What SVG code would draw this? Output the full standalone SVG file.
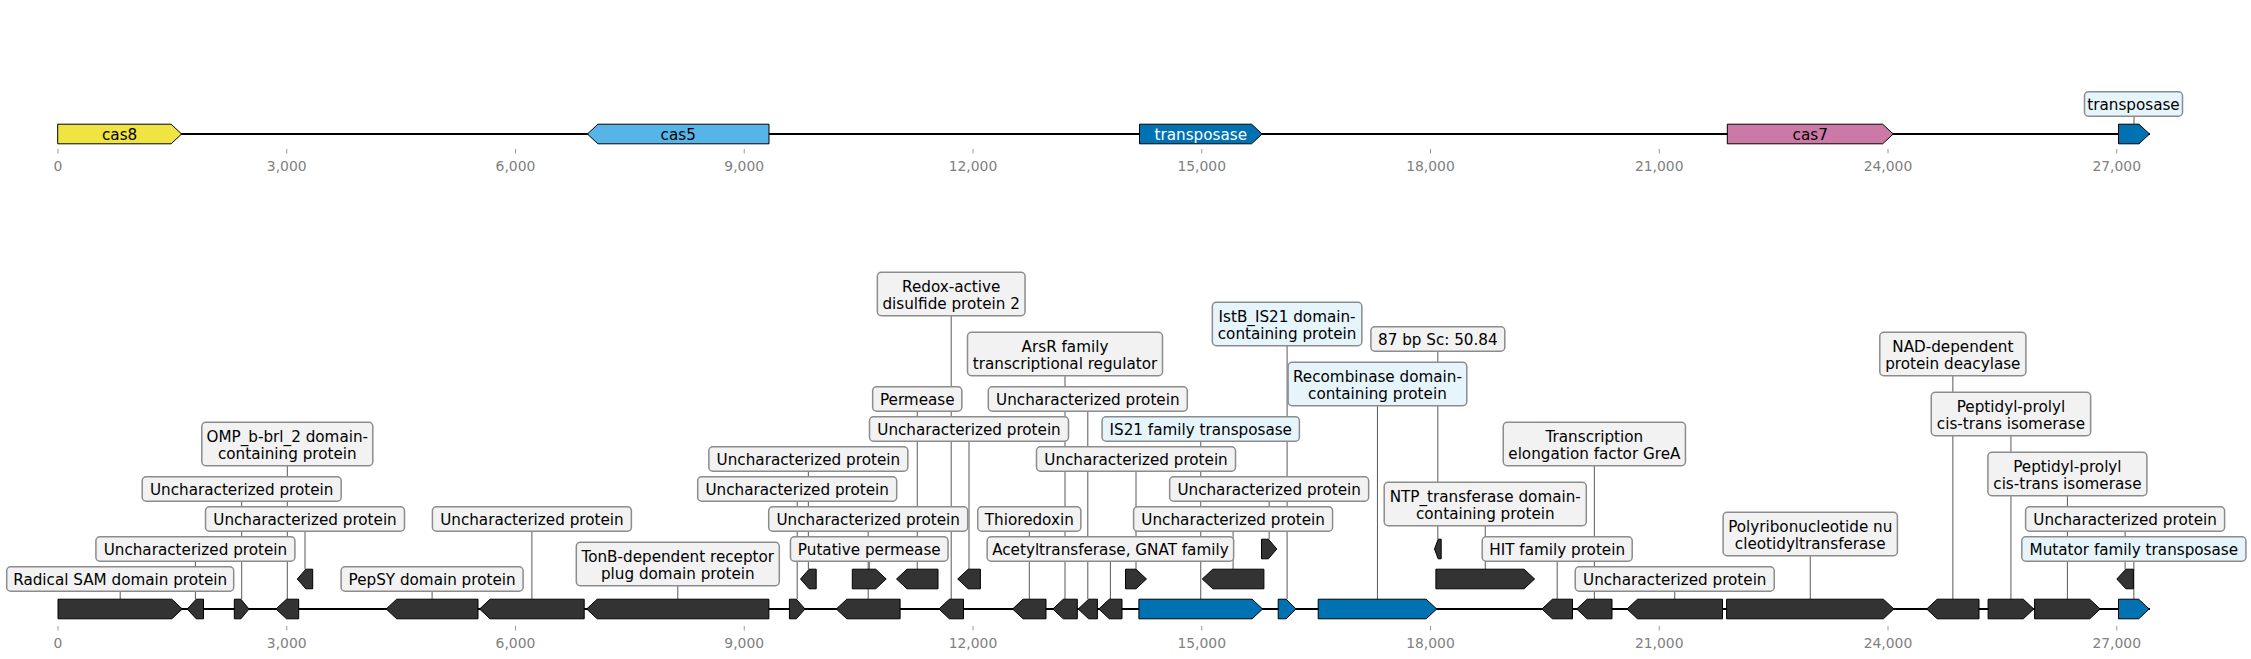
<svg xmlns="http://www.w3.org/2000/svg" width="2251" height="659" viewBox="0 0 2251 659">
<style>
text{font-family:"DejaVu Sans","Liberation Sans",sans-serif;font-size:15.2px;text-anchor:middle;fill:#000}
.tk{font-size:13.9px;fill:#808080}
.g{fill:#333333;stroke:#000;stroke-width:1}
.b{fill:#0072b2;stroke:#000;stroke-width:1}
.lb{fill:#f2f2f2;stroke:#8c8c8c;stroke-width:1.5}
.lbb{fill:#e6f5fc;stroke:#8c8c8c;stroke-width:1.5}
.c{stroke:#595959;stroke-width:1;fill:none}
.ax{stroke:#000;stroke-width:2}
.tick{stroke:#999;stroke-width:1}
</style>
<rect width="2251" height="659" fill="#fff"/>
<g id="axes">
<line class="ax" x1="58" y1="134" x2="2150" y2="134"/>
<line class="ax" x1="58" y1="609" x2="2150" y2="609"/>
<path class="tick" d="M58,149V153.5M286.75,149V153.5M515.5,149V153.5M744.25,149V153.5M973,149V153.5M1201.75,149V153.5M1430.5,149V153.5M1659.25,149V153.5M1888,149V153.5M2116.75,149V153.5M58,626V630.5M286.75,626V630.5M515.5,626V630.5M744.25,626V630.5M973,626V630.5M1201.75,626V630.5M1430.5,626V630.5M1659.25,626V630.5M1888,626V630.5M2116.75,626V630.5"/>
<g class="tk">
<text class="tk" x="58" y="171">0</text><text class="tk" x="286.75" y="171">3,000</text><text class="tk" x="515.5" y="171">6,000</text><text class="tk" x="744.25" y="171">9,000</text><text class="tk" x="973" y="171">12,000</text><text class="tk" x="1201.75" y="171">15,000</text><text class="tk" x="1430.5" y="171">18,000</text><text class="tk" x="1659.25" y="171">21,000</text><text class="tk" x="1888" y="171">24,000</text><text class="tk" x="2116.75" y="171">27,000</text>
<text class="tk" x="58" y="647.5">0</text><text class="tk" x="286.75" y="647.5">3,000</text><text class="tk" x="515.5" y="647.5">6,000</text><text class="tk" x="744.25" y="647.5">9,000</text><text class="tk" x="973" y="647.5">12,000</text><text class="tk" x="1201.75" y="647.5">15,000</text><text class="tk" x="1430.5" y="647.5">18,000</text><text class="tk" x="1659.25" y="647.5">21,000</text><text class="tk" x="1888" y="647.5">24,000</text><text class="tk" x="2116.75" y="647.5">27,000</text>
</g>
</g>
<g id="connectors">
<path class="c" d="M2134,116.15V124.2M120.2,591.15V599.2M195.4,561.15V599.2M241.7,501.15V599.2M305,531.15V569.2M287.3,465.65V599.2M432.1,591.15V599.2M531.9,531.15V599.2M677.8,585.65V599.2M797.2,501.15V599.2M808.35,471.15V569.2M868.2,531.15V599.2M869.25,561.15V569.2M917.25,411.15V569.2M951.2,315.65V599.2M969,441.15V569.2M1029.3,531.15V599.2M1065,375.65V599.2M1087.8,411.15V599.2M1110.4,561.15V599.2M1136,471.15V569.2M1200.75,441.15V599.2M1233.1,531.15V569.2M1269.15,501.15V539.2M1287.1,345.65V599.2M1377.45,405.65V599.2M1437.85,351.15V539.2M1485.25,525.65V569.2M1557.2,561.15V599.2M1594.35,465.65V599.2M1674.75,591.15V599.2M1810.25,555.65V599.2M1952.85,375.65V599.2M2010.95,435.65V599.2M2067.4,495.65V599.2M2125.1,531.15V569.2M2133.85,561.15V599.2"/>
</g>
<g id="top-cas8"><polygon points="57.7,124.2 171.1,124.2 181.6,134 171.1,143.8 57.7,143.8" fill="#f0e442" stroke="#000" stroke-width="1"/><text x="119.6" y="139.5">cas8</text></g>
<g id="top-cas5"><polygon points="587.4,134 597.9,124.2 769,124.2 769,143.8 597.9,143.8" fill="#56b4e9" stroke="#000" stroke-width="1"/><text x="678.2" y="139.5">cas5</text></g>
<g id="top-transposase"><polygon class="b" points="1139.5,124.2 1251.6,124.2 1262.1,134 1251.6,143.8 1139.5,143.8"/><text x="1200.8" y="139.5" style="fill:#fff">transposase</text></g>
<g id="top-cas7"><polygon points="1727.3,124.2 1882.7,124.2 1893.2,134 1882.7,143.8 1727.3,143.8" fill="#cc79a7" stroke="#000" stroke-width="1"/><text x="1810.2" y="139.5">cas7</text></g>
<g id="top-transposase2"><polygon class="b" points="2118.5,124.2 2139,124.2 2149.5,134 2139,143.8 2118.5,143.8"/><rect class="lbb" x="2084.5" y="91.85" width="98" height="24.3" rx="4"/><text x="2133.5" y="109.5">transposase</text></g>
<g id="gA"><polygon class="g" points="58,599.2 171.8,599.2 182.3,609 171.8,618.8 58,618.8"/><rect class="lb" x="6.7" y="566.85" width="227" height="24.3" rx="4"/><text x="120.2" y="584.5">Radical SAM domain protein</text></g>
<g id="gB"><polygon class="g" points="187.3,609 196.2,599.2 203.5,599.2 203.5,618.8 196.2,618.8"/><rect class="lb" x="95.9" y="536.85" width="199" height="24.3" rx="4"/><text x="195.4" y="554.5">Uncharacterized protein</text></g>
<g id="gC"><polygon class="g" points="234.3,599.2 240.9,599.2 249,609 240.9,618.8 234.3,618.8"/><rect class="lb" x="142.2" y="476.85" width="199" height="24.3" rx="4"/><text x="241.7" y="494.5">Uncharacterized protein</text></g>
<g id="gD"><polygon class="g" points="297.3,579 305.8,569.2 312.7,569.2 312.7,588.8 305.8,588.8"/><rect class="lb" x="205.5" y="506.85" width="199" height="24.3" rx="4"/><text x="305" y="524.5">Uncharacterized protein</text></g>
<g id="gE"><polygon class="g" points="276,609 286.5,599.2 298.7,599.2 298.7,618.8 286.5,618.8"/><rect class="lb" x="201.8" y="422.35" width="171" height="43.3" rx="4"/><text x="287.3" y="441.7">OMP_b-brl_2 domain-</text><text x="287.3" y="458.9">containing protein</text></g>
<g id="gF"><polygon class="g" points="386.2,609 396.7,599.2 478,599.2 478,618.8 396.7,618.8"/><rect class="lb" x="341.1" y="566.85" width="182" height="24.3" rx="4"/><text x="432.1" y="584.5">PepSY domain protein</text></g>
<g id="gG"><polygon class="g" points="479.6,609 490.1,599.2 584.2,599.2 584.2,618.8 490.1,618.8"/><rect class="lb" x="432.4" y="506.85" width="199" height="24.3" rx="4"/><text x="531.9" y="524.5">Uncharacterized protein</text></g>
<g id="gH"><polygon class="g" points="586.7,609 597.2,599.2 768.9,599.2 768.9,618.8 597.2,618.8"/><rect class="lb" x="576.3" y="542.35" width="203" height="43.3" rx="4"/><text x="677.8" y="561.7">TonB-dependent receptor</text><text x="677.8" y="578.9">plug domain protein</text></g>
<g id="gI"><polygon class="g" points="789.4,599.2 796.4,599.2 805,609 796.4,618.8 789.4,618.8"/><rect class="lb" x="697.7" y="476.85" width="199" height="24.3" rx="4"/><text x="797.2" y="494.5">Uncharacterized protein</text></g>
<g id="gJ"><polygon class="g" points="800.5,579 809.1,569.2 816.2,569.2 816.2,588.8 809.1,588.8"/><rect class="lb" x="708.85" y="446.85" width="199" height="24.3" rx="4"/><text x="808.35" y="464.5">Uncharacterized protein</text></g>
<g id="gK"><polygon class="g" points="836.3,609 846.8,599.2 900.1,599.2 900.1,618.8 846.8,618.8"/><rect class="lb" x="768.7" y="506.85" width="199" height="24.3" rx="4"/><text x="868.2" y="524.5">Uncharacterized protein</text></g>
<g id="gL"><polygon class="g" points="852.3,569.2 875.7,569.2 886.2,579 875.7,588.8 852.3,588.8"/><rect class="lb" x="790.45" y="536.85" width="157.6" height="24.3" rx="4"/><text x="869.25" y="554.5">Putative permease</text></g>
<g id="gM"><polygon class="g" points="896.5,579 907,569.2 938,569.2 938,588.8 907,588.8"/><rect class="lb" x="872.65" y="386.85" width="89.2" height="24.3" rx="4"/><text x="917.25" y="404.5">Permease</text></g>
<g id="gN"><polygon class="g" points="938.9,609 949.4,599.2 963.5,599.2 963.5,618.8 949.4,618.8"/><rect class="lb" x="877.35" y="272.35" width="147.7" height="43.3" rx="4"/><text x="951.2" y="291.7">Redox-active</text><text x="951.2" y="308.9">disulfide protein 2</text></g>
<g id="gO"><polygon class="g" points="957.7,579 968.2,569.2 980.4,569.2 980.4,588.8 968.2,588.8"/><rect class="lb" x="869.5" y="416.85" width="199" height="24.3" rx="4"/><text x="969" y="434.5">Uncharacterized protein</text></g>
<g id="gP"><polygon class="g" points="1012.6,609 1023.1,599.2 1046,599.2 1046,618.8 1023.1,618.8"/><rect class="lb" x="977.75" y="506.85" width="103.1" height="24.3" rx="4"/><text x="1029.3" y="524.5">Thioredoxin</text></g>
<g id="gQ"><polygon class="g" points="1052.8,609 1063.3,599.2 1077.3,599.2 1077.3,618.8 1063.3,618.8"/><rect class="lb" x="967.5" y="332.35" width="195" height="43.3" rx="4"/><text x="1065" y="351.7">ArsR family</text><text x="1065" y="368.9">transcriptional regulator</text></g>
<g id="gR"><polygon class="g" points="1078.2,609 1088.7,599.2 1097.4,599.2 1097.4,618.8 1088.7,618.8"/><rect class="lb" x="988.3" y="386.85" width="199" height="24.3" rx="4"/><text x="1087.8" y="404.5">Uncharacterized protein</text></g>
<g id="gS"><polygon class="g" points="1098.8,609 1109.3,599.2 1122,599.2 1122,618.8 1109.3,618.8"/><rect class="lb" x="987.15" y="536.85" width="246.5" height="24.3" rx="4"/><text x="1110.4" y="554.5">Acetyltransferase, GNAT family</text></g>
<g id="gT"><polygon class="g" points="1125.5,569.2 1136,569.2 1146.5,579 1136,588.8 1125.5,588.8"/><rect class="lb" x="1036.5" y="446.85" width="199" height="24.3" rx="4"/><text x="1136" y="464.5">Uncharacterized protein</text></g>
<g id="gU"><polygon class="b" points="1138.9,599.2 1252.1,599.2 1262.6,609 1252.1,618.8 1138.9,618.8"/><rect class="lbb" x="1102.1" y="416.85" width="197.3" height="24.3" rx="4"/><text x="1200.75" y="434.5">IS21 family transposase</text></g>
<g id="gV"><polygon class="g" points="1202.3,579 1212.8,569.2 1263.9,569.2 1263.9,588.8 1212.8,588.8"/><rect class="lb" x="1133.6" y="506.85" width="199" height="24.3" rx="4"/><text x="1233.1" y="524.5">Uncharacterized protein</text></g>
<g id="gW"><polygon class="g" points="1261.5,539.2 1268.4,539.2 1276.8,549 1268.4,558.8 1261.5,558.8"/><rect class="lb" x="1169.65" y="476.85" width="199" height="24.3" rx="4"/><text x="1269.15" y="494.5">Uncharacterized protein</text></g>
<g id="gX"><polygon class="b" points="1278.2,599.2 1286.2,599.2 1296,609 1286.2,618.8 1278.2,618.8"/><rect class="lbb" x="1212.35" y="302.35" width="149.5" height="43.3" rx="4"/><text x="1287.1" y="321.7">IstB_IS21 domain-</text><text x="1287.1" y="338.9">containing protein</text></g>
<g id="gY"><polygon class="b" points="1318.2,599.2 1426.2,599.2 1436.7,609 1426.2,618.8 1318.2,618.8"/><rect class="lbb" x="1288.1" y="362.35" width="178.7" height="43.3" rx="4"/><text x="1377.45" y="381.7">Recombinase domain-</text><text x="1377.45" y="398.9">containing protein</text></g>
<g id="gZ"><polygon class="g" points="1434.5,549 1438.2,539.2 1441.2,539.2 1441.2,558.8 1438.2,558.8"/><rect class="lb" x="1370.9" y="326.85" width="133.9" height="24.3" rx="4"/><text x="1437.85" y="344.5">87 bp Sc: 50.84</text></g>
<g id="gAA"><polygon class="g" points="1435.9,569.2 1524.1,569.2 1534.6,579 1524.1,588.8 1435.9,588.8"/><rect class="lb" x="1384.2" y="482.35" width="202.1" height="43.3" rx="4"/><text x="1485.25" y="501.7">NTP_transferase domain-</text><text x="1485.25" y="518.9">containing protein</text></g>
<g id="gAB"><polygon class="g" points="1541.9,609 1552.4,599.2 1572.5,599.2 1572.5,618.8 1552.4,618.8"/><rect class="lb" x="1482.2" y="536.85" width="150" height="24.3" rx="4"/><text x="1557.2" y="554.5">HIT family protein</text></g>
<g id="gAC"><polygon class="g" points="1576.7,609 1587.2,599.2 1612,599.2 1612,618.8 1587.2,618.8"/><rect class="lb" x="1503.25" y="422.35" width="182.2" height="43.3" rx="4"/><text x="1594.35" y="441.7">Transcription</text><text x="1594.35" y="458.9">elongation factor GreA</text></g>
<g id="gAD"><polygon class="g" points="1627,609 1637.5,599.2 1722.5,599.2 1722.5,618.8 1637.5,618.8"/><rect class="lb" x="1575.25" y="566.85" width="199" height="24.3" rx="4"/><text x="1674.75" y="584.5">Uncharacterized protein</text></g>
<g id="gAE"><polygon class="g" points="1726.6,599.2 1883.4,599.2 1893.9,609 1883.4,618.8 1726.6,618.8"/><rect class="lb" x="1723.1" y="512.35" width="174.3" height="43.3" rx="4"/><text x="1810.25" y="531.7">Polyribonucleotide nu</text><text x="1810.25" y="548.9">cleotidyltransferase</text></g>
<g id="gAF"><polygon class="g" points="1926.7,609 1937.2,599.2 1979,599.2 1979,618.8 1937.2,618.8"/><rect class="lb" x="1879.8" y="332.35" width="146.1" height="43.3" rx="4"/><text x="1952.85" y="351.7">NAD-dependent</text><text x="1952.85" y="368.9">protein deacylase</text></g>
<g id="gAG"><polygon class="g" points="1988.1,599.2 2023.3,599.2 2033.8,609 2023.3,618.8 1988.1,618.8"/><rect class="lb" x="1931.25" y="392.35" width="159.4" height="43.3" rx="4"/><text x="2010.95" y="411.7">Peptidyl-prolyl</text><text x="2010.95" y="428.9">cis-trans isomerase</text></g>
<g id="gAH"><polygon class="g" points="2034.6,599.2 2089.7,599.2 2100.2,609 2089.7,618.8 2034.6,618.8"/><rect class="lb" x="1987.9" y="452.35" width="159" height="43.3" rx="4"/><text x="2067.4" y="471.7">Peptidyl-prolyl</text><text x="2067.4" y="488.9">cis-trans isomerase</text></g>
<g id="gAI"><polygon class="g" points="2116.8,579 2125.9,569.2 2133.4,569.2 2133.4,588.8 2125.9,588.8"/><rect class="lb" x="2025.6" y="506.85" width="199" height="24.3" rx="4"/><text x="2125.1" y="524.5">Uncharacterized protein</text></g>
<g id="gAJ"><polygon class="b" points="2118.5,599.2 2138.7,599.2 2149.2,609 2138.7,618.8 2118.5,618.8"/><rect class="lbb" x="2021.8" y="536.85" width="224.1" height="24.3" rx="4"/><text x="2133.85" y="554.5">Mutator family transposase</text></g>
</svg>
